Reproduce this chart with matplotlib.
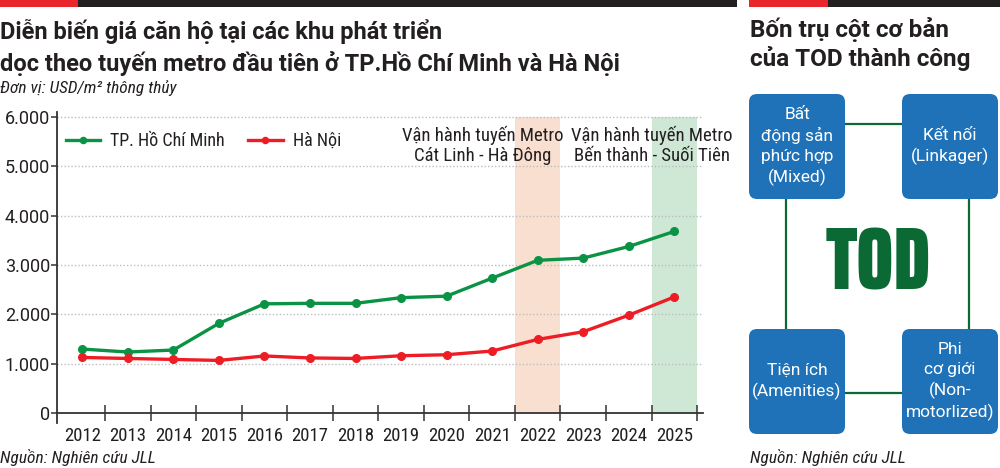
import matplotlib
matplotlib.use("Agg")
import matplotlib.pyplot as plt
from matplotlib.patches import FancyBboxPatch, Rectangle
from matplotlib.lines import Line2D

# ---------------- data ----------------
years = ["2012", "2013", "2014", "2015", "2016", "2017", "2018", "2019",
         "2020", "2021", "2022", "2023", "2024", "2025"]
hcm = [1300, 1240, 1280, 1820, 2215, 2225, 2225, 2340, 2370, 2735, 3095, 3140, 3375, 3680]
hanoi = [1130, 1110, 1090, 1070, 1160, 1120, 1110, 1165, 1185, 1260, 1495, 1650, 1985, 2355]
yticks = [0, 1000, 2000, 3000, 4000, 5000, 6000]
ytick_labels = ["0", "1.000", "2.000", "3.000", "4.000", "5.000", "6.000"]
series_names = ["TP. Hồ Chí Minh", "Hà Nội"]
highlight_years = ["2022", "2025"]
highlight_notes = ["Vận hành tuyến Metro\nCát Linh - Hà Đông",
                   "Vận hành tuyến Metro\nBến thành - Suối Tiên"]
pillars = ["Bất\nđộng sản\nphức hợp\n(Mixed)", "Kết nối\n(Linkager)",
           "Tiện ích\n(Amenities)", "Phi\ncơ giới\n(Non-\nmotorlized)"]

# ---------------- style ----------------
GREEN = "#0a9345"
RED = "#ee1d25"
DARK = "#231f20"
BLUE = "#1f72b8"
DGREEN = "#0b6a33"
COND = ["Roboto Condensed", "Roboto", "DejaVu Sans"]
REG = ["Roboto", "DejaVu Sans"]
XCOND = ["Saira ExtraCondensed", "Roboto Condensed", "DejaVu Sans"]
note_x = [8.8, 12.5]      # annotation anchors (axis units)
note_y = 5420

W, H = 1000, 468
fig = plt.figure(figsize=(10, 4.68), dpi=100)

def fx(px):
    return px / W

def fy(py):
    return 1 - py / H

# ---------------- main chart ----------------
ax_l, ax_r, ax_t, ax_b = 57, 703, 111.8, 423.2
ax = fig.add_axes([fx(ax_l), fy(ax_b), (ax_r - ax_l) / W, (ax_b - ax_t) / H])
x = list(range(len(years)))
ax.set_xlim(-0.555, 13.63)
ax.set_ylim(-200, 6100)

hl_colors = ["#f9dfd0", "#cfe8d6"]
for yr, c in zip(highlight_years, hl_colors):
    i = years.index(yr)
    ax.bar(i, 6000, width=1.0, color=c, zorder=0, linewidth=0)

for v in yticks[1:]:
    ax.axhline(v, color="#bdbdbd", lw=1.0, ls=(0, (1, 1.5)), zorder=1)

ax.plot(x, hcm, color=GREEN, lw=2.4, marker="o", ms=5.5, zorder=4,
        label=series_names[0])
ax.plot(x, hanoi, color=RED, lw=2.4, marker="o", ms=5.5, zorder=4,
        label=series_names[1])

for s in ["top", "right"]:
    ax.spines[s].set_visible(False)
ax.spines["left"].set_color("#333333")
ax.spines["left"].set_linewidth(1.3)
ax.spines["bottom"].set_position(("data", 0))
ax.spines["bottom"].set_color("#333333")
ax.spines["bottom"].set_linewidth(1.3)

ax.set_yticks(yticks)
ax.set_yticklabels(ytick_labels, family=REG, fontsize=13, color=DARK)
ax.tick_params(axis="y", direction="out", length=4, width=1.1, color="#333333", pad=1)

ax.set_xticks(x)
ax.set_xticklabels(years, family=COND, fontsize=13.5, color=DARK)
ax.set_xticks([i + 0.5 for i in x], minor=True)
ax.tick_params(axis="x", which="major", length=0, pad=10)
ax.tick_params(axis="x", which="minor", direction="inout", length=11, width=1.1,
               color="#333333")

for nx, note in zip(note_x, highlight_notes):
    ax.text(nx, note_y, note, ha="center", va="center", family=COND,
            fontsize=13.5, color=DARK, linespacing=1.15, zorder=5)

leg = ax.legend(loc="center left", bbox_to_anchor=(fx(66), fy(141)),
                bbox_transform=fig.transFigure, ncol=2, frameon=False,
                prop={"family": COND, "size": 13}, handlelength=1.9,
                handletextpad=0.55, columnspacing=1.3, borderpad=0,
                borderaxespad=0, markerscale=0.8)
for t in leg.get_texts():
    t.set_color(DARK)

# ---------------- decorations / right panel ----------------
deco = fig.add_axes([0, 0, 1, 1], zorder=-1)
deco.set_xlim(0, W)
deco.set_ylim(H, 0)
deco.axis("off")

deco.add_patch(Rectangle((0, 0), 78, 7, color="#e8262b", lw=0))
deco.add_patch(Rectangle((78, 0), 659, 7, color="#231f20", lw=0))
deco.add_patch(Rectangle((749, 0), 79, 7, color="#e8262b", lw=0))
deco.add_patch(Rectangle((828, 0), 172, 7, color="#231f20", lw=0))

fig.text(fx(0), fy(39), "Diễn biến giá căn hộ tại các khu phát triển",
         family=REG, weight="bold", fontsize=17, color=DARK, va="baseline")
fig.text(fx(0), fy(71), "dọc theo tuyến metro đầu tiên ở TP.Hồ Chí Minh và Hà Nội",
         family=REG, weight="bold", fontsize=17, color=DARK, va="baseline")
fig.text(fx(0), fy(93), "Đơn vị: USD/m² thông thủy", family=COND,
         style="italic", fontsize=12.5, color=DARK, va="baseline")
fig.text(fx(0), fy(463), "Nguồn: Nghiên cứu JLL", family=COND,
         style="italic", fontsize=12.5, color=DARK, va="baseline")

fig.text(fx(750), fy(37), "Bốn trụ cột cơ bản", family=REG, weight="bold",
         fontsize=17.5, color=DARK, va="baseline")
fig.text(fx(750), fy(66), "của TOD thành công", family=REG, weight="bold",
         fontsize=17.5, color=DARK, va="baseline")
fig.text(fx(750), fy(463), "Nguồn: Nghiên cứu JLL", family=COND,
         style="italic", fontsize=12.5, color=DARK, va="baseline")

deco.add_line(Line2D([845, 902], [124, 124], color=DGREEN, lw=1.6))
deco.add_line(Line2D([845, 902], [393, 393], color=DGREEN, lw=1.6))
deco.add_line(Line2D([786, 786], [199, 329], color=DGREEN, lw=1.6))
deco.add_line(Line2D([969, 969], [199, 329], color=DGREEN, lw=1.6))

boxes = [(749, 94), (902, 94), (749, 329), (902, 329)]
bw, bh = 96, 105
for (bx, by), label in zip(boxes, pillars):
    deco.add_patch(FancyBboxPatch((bx, by), bw, bh,
                                  boxstyle="round,pad=0,rounding_size=8",
                                  fc=BLUE, ec="none", zorder=3))
    fig.text(fx(bx + bw / 2), fy(by + bh / 2), label, ha="center", va="center",
             family=REG, fontsize=12.5, color="white", linespacing=1.35, zorder=5)

fig.text(fx(878), fy(265), "TOD", ha="center", va="center", family=XCOND,
         weight="black", fontsize=64, color=DGREEN)

fig.savefig("out.png", dpi=100, facecolor="white")
